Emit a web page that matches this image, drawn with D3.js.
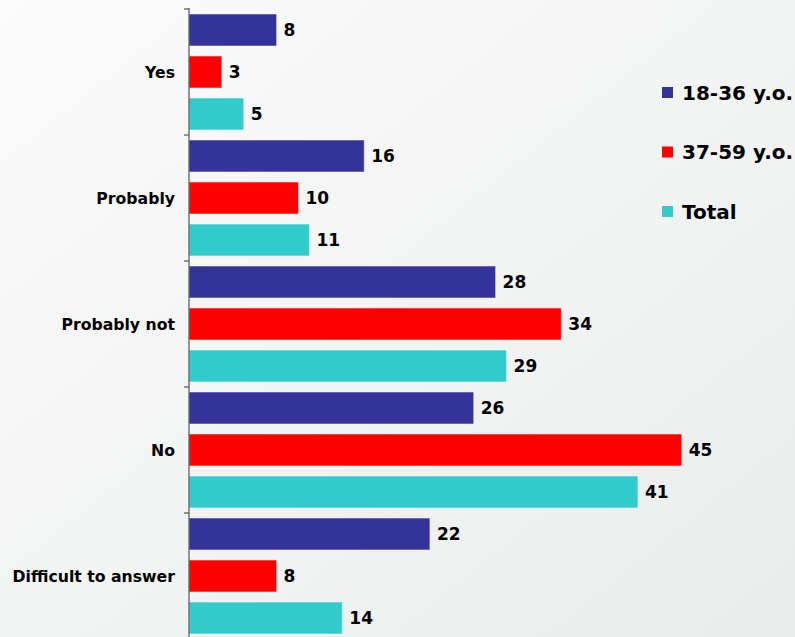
<!DOCTYPE html>
<html>
<head>
<meta charset="utf-8">
<script src="https://cdn.jsdelivr.net/npm/d3@7"></script>
<style>
  html, body { margin: 0; padding: 0; }
  svg { display: block; }
  text { font-family: "DejaVu Sans", Verdana, sans-serif; font-weight: bold; fill: #000; }
</style>
</head>
<body>
<svg id="chart" width="795" height="637"></svg>
<script>
// Answer categories, top to bottom
const categories = ["Yes", "Probably", "Probably not", "No", "Difficult to answer"];
// Age groups
const seriesNames = ["18-36 y.o.", "37-59 y.o.", "Total"];
// Percentages per category, one array per group
const youngValues = [8, 16, 28, 26, 22];
const olderValues = [3, 10, 34, 45, 8];
const totalValues = [5, 11, 29, 41, 14];
const seriesColors = ["#333399", "#ff0000", "#33cccc"];

const seriesValues = [youngValues, olderValues, totalValues];

const svg = d3.select("#chart");
const W = 795, H = 637;

// soft diagonal background
const defs = svg.append("defs");
const grad = defs.append("linearGradient").attr("id", "bg")
  .attr("x1", "0%").attr("y1", "0%").attr("x2", "100%").attr("y2", "100%");
grad.append("stop").attr("offset", "0%").attr("stop-color", "#fbfbfb");
grad.append("stop").attr("offset", "100%").attr("stop-color", "#eaecec");
svg.append("rect").attr("width", W).attr("height", H).attr("fill", "url(#bg)");

const x0 = 189;
const x = d3.scaleLinear().domain([0, 50]).range([x0, x0 + 547.5]);
const y = d3.scaleBand().domain(categories).range([9, 639]);
const yInner = d3.scaleBand().domain(seriesNames)
  .range([0, y.bandwidth()]).paddingInner(0.24).paddingOuter(0.12);

const rows = categories.map((c, i) => ({
  cat: c,
  vals: seriesNames.map((s, j) => ({ s, v: seriesValues[j][i], color: seriesColors[j] }))
}));

const groups = svg.selectAll("g.cat").data(rows).join("g")
  .attr("class", "cat")
  .attr("transform", d => `translate(0,${y(d.cat)})`);

groups.selectAll("rect").data(d => d.vals).join("rect")
  .attr("x", x(0))
  .attr("y", d => yInner(d.s))
  .attr("width", d => x(d.v) - x(0))
  .attr("height", yInner.bandwidth())
  .attr("fill", d => d.color)
  .attr("stroke", "rgba(255,255,255,0.45)")
  .attr("stroke-width", 1);

groups.selectAll("text.val").data(d => d.vals).join("text")
  .attr("class", "val")
  .attr("x", d => x(d.v) + 7)
  .attr("y", d => yInner(d.s) + yInner.bandwidth() / 2)
  .attr("dy", "0.36em")
  .style("font-size", "17px")
  .text(d => d.v);

// category axis with ticks at band edges
const axisG = svg.append("g");
axisG.append("line")
  .attr("x1", x0).attr("x2", x0).attr("y1", 8).attr("y2", H)
  .attr("stroke", "#555").attr("stroke-width", 1.2);
const edges = categories.map(c => y(c));
axisG.selectAll("line.tick").data(edges).join("line")
  .attr("class", "tick")
  .attr("x1", x0 - 5).attr("x2", x0).attr("y1", d => d).attr("y2", d => d)
  .attr("stroke", "#555").attr("stroke-width", 1.2);
axisG.selectAll("text").data(categories).join("text")
  .attr("x", 175)
  .attr("y", d => y(d) + y.bandwidth() / 2)
  .attr("dy", "0.36em")
  .attr("text-anchor", "end")
  .style("font-size", "15.7px")
  .text(d => d);

// legend
const legend = svg.append("g").attr("transform", "translate(662,87)");
const li = legend.selectAll("g").data(seriesNames).join("g")
  .attr("transform", (d, i) => `translate(0,${i * 59.5})`);
li.append("rect").attr("width", 11).attr("height", 11)
  .attr("fill", (d, i) => seriesColors[i]);
li.append("text").attr("x", 20).attr("y", 5.5).attr("dy", "0.36em")
  .style("font-size", "20px")
  .text(d => d);
</script>
</body>
</html>
